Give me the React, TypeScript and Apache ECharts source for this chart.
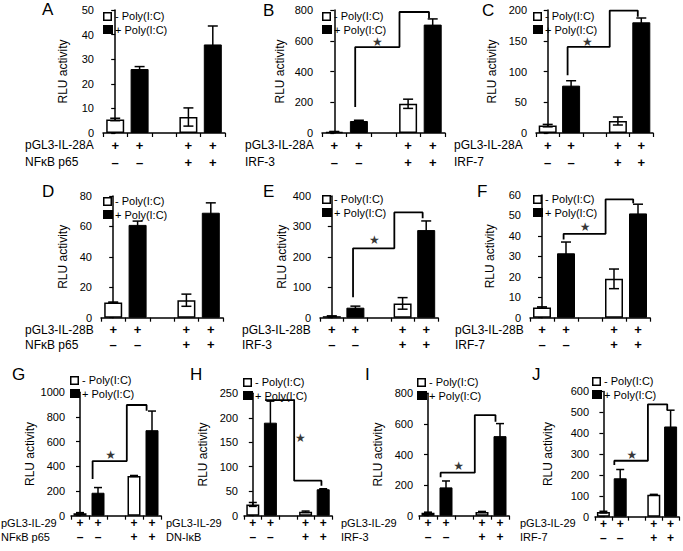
import React, { useEffect, useRef } from "react";
import * as echarts from "echarts";

// ---------- data ----------
const panelLetters = ["A", "B", "C", "D", "E", "F", "G", "H", "I", "J"];
const reporterLabels = ["pGL3-IL-28A", "pGL3-IL-28A", "pGL3-IL-28A", "pGL3-IL-28B", "pGL3-IL-28B", "pGL3-IL-28B", "pGL3-IL-29", "pGL3-IL-29", "pGL3-IL-29", "pGL3-IL-29"];
const factorLabels = ["NFκB p65", "IRF-3", "IRF-7", "NFκB p65", "IRF-3", "IRF-7", "NFκB p65", "DN-IκB", "IRF-3", "IRF-7"];
const categories = ["c1", "c2", "gap", "c3", "c4"];
const reporterSigns = ["+", "+", "", "+", "+"];
const factorSigns = ["–", "–", "", "+", "+"];
const seriesNames = ["- Poly(I:C)", "+ Poly(I:C)"];
const yAxisName = "RLU activity";

const yMax = [50, 800, 200, 80, 400, 60, 1000, 250, 800, 600];
const yStep = [10, 200, 50, 20, 100, 10, 200, 50, 200, 100];

// values of the "- Poly(I:C)" bars (without / with co-transfected factor)
const minusValues = [[5.5, 6.5], [8, 190], [12, 19.5], [10, 11.5], [5, 47], [5, 19], [20, 322], [23, 8], [20, 25], [22, 105]];
const minusErrors = [[0.5, 3.7], [2, 30], [2, 6.5], [0.3, 4], [1, 19], [0.3, 4.8], [5, 4], [4, 1.5], [3, 3], [4, 2]];
// values of the "+ Poly(I:C)" bars
const plusValues = [[26, 36], [78, 705], [77, 180], [61, 69], [33, 288], [31.5, 51], [186, 693], [190, 54], [185, 520], [184, 432]];
const plusErrors = [[1, 7.5], [5, 37], [8, 7], [2.5, 6.5], [5, 30], [5.5, 4.5], [42, 155], [44, 1], [42, 82], [42, 78]];

// significance brackets: [category position, value]
const brackets: number[][][] = [
  [],
  [[0.85, 169], [0.85, 559], [2.65, 559], [2.65, 787], [3.85, 787], [3.85, 748]],
  [[0.85, 94], [0.85, 140], [2.65, 140], [2.65, 199], [3.85, 199], [3.85, 189]],
  [],
  [[0.9, 67], [0.9, 228], [2.65, 228], [2.65, 346], [3.85, 346], [3.85, 327]],
  [[0.9, 38.3], [0.9, 41], [2.65, 41], [2.65, 57.9], [3.8, 57.9], [3.8, 56]],
  [[0.7, 297], [0.7, 443], [2.6, 443], [2.6, 897], [3.7, 897], [3.7, 851]],
  [[0.7, 236], [2.35, 236], [2.35, 71.5], [3.9, 71.5], [3.9, 61]],
  [[0.7, 251], [0.7, 281], [2.6, 281], [2.6, 658], [3.75, 658], [3.75, 614]],
  [[0.65, 248], [0.65, 268], [2.65, 268], [2.65, 538], [3.8, 538], [3.8, 511]],
];
const stars: (number[] | null)[] = [null, [1.75, 590], [1.7, 148], null, [1.8, 254], [1.8, 44.5], [1.7, 495], [2.7, 158], [1.7, 322], [1.7, 295]];

// ---------- layout ----------
const gridLeft = [103, 322, 536, 101, 320, 530, 71, 244, 419, 595];
const gridTop = [10, 10, 10, 196, 196, 195, 392.3, 393.3, 393.3, 391.4];
const gridWidth = [122, 123, 117, 122, 118, 120, 90, 88, 90, 84];
const gridHeight = [123, 123, 123, 121.7, 121.7, 122.7, 123.4, 122.4, 122.4, 125.3];
const nameGap = [34, 36, 38, 32, 32, 34, 35, 35, 35, 41];
const legendLeft = [103, 322, 533, 103, 322, 533, 70, 243, 417, 592];
const legendTop = [12, 12, 12, 197, 195, 195, 376, 378, 378, 377];
const letterX = [42, 263, 482, 42, 263, 477, 12, 190, 365, 532];
const letterY = [9, 10, 10, 191, 191, 191, 374, 374, 374, 374];
const rowTitleX = [25, 245, 454, 25, 242, 455, 1, 166, 341, 520];
const rowY1 = [145, 330, 523];
const rowY2 = [162, 345, 537];
const rowTitleFont = [12, 12, 11];
const labelLineHeight = [17, 14.5, 14];
const labelFont = [13, 13, 12];
const labelMargin = [3.5, 5, 0.3];
const yLabelMargin = [9, 9, 6];

const FONT = "Liberation Sans, Arial, Helvetica, sans-serif";

function buildOption() {
  const grid: any[] = [];
  const xAxis: any[] = [];
  const yAxis: any[] = [];
  const series: any[] = [];
  const graphic: any[] = [];

  for (let p = 0; p < 10; p++) {
    const row = p < 3 ? 0 : p < 6 ? 1 : 2;
    const barW = row === 2 ? 13 : 18;
    const capW = row === 2 ? 8 : 10;
    grid.push({ left: gridLeft[p], top: gridTop[p], width: gridWidth[p], height: gridHeight[p] });
    xAxis.push({
      type: "category",
      gridIndex: p,
      data: categories,
      axisLine: { lineStyle: { color: "#000", width: 1.5 } },
      axisTick: { show: true, length: 4, lineStyle: { color: "#000", width: 1.2 } },
      axisLabel: {
        interval: 0,
        color: "#000",
        fontFamily: FONT,
        fontSize: labelFont[row],
        fontWeight: "bold",
        lineHeight: labelLineHeight[row],
        margin: labelMargin[row],
        formatter: (_v: string, i: number) => reporterSigns[i] + "\n" + factorSigns[i],
      },
    });
    xAxis.push({ type: "value", gridIndex: p, min: -0.5, max: 4.5, show: false });
    yAxis.push({
      type: "value",
      gridIndex: p,
      min: 0,
      max: yMax[p],
      interval: yStep[p],
      splitLine: { show: false },
      axisLine: { show: true, lineStyle: { color: "#000", width: 1.5 } },
      axisTick: { show: true, length: 4, lineStyle: { color: "#000", width: 1.2 } },
      axisLabel: {
        color: "#000",
        fontFamily: FONT,
        fontSize: 11,
        margin: yLabelMargin[row],
        formatter: (v: number) => String(v),
      },
      name: yAxisName,
      nameLocation: "middle",
      nameGap: nameGap[p],
      nameTextStyle: { color: "#000", fontFamily: FONT, fontSize: 12 },
    });
    const xc = 2 * p;
    const xv = 2 * p + 1;
    series.push({
      type: "bar",
      name: seriesNames[0],
      xAxisIndex: xc,
      yAxisIndex: p,
      barWidth: barW,
      barGap: "-100%",
      itemStyle: { color: "#fff", borderColor: "#000", borderWidth: 1.5 },
      data: [minusValues[p][0], "-", "-", minusValues[p][1], "-"],
    });
    series.push({
      type: "bar",
      name: seriesNames[1],
      xAxisIndex: xc,
      yAxisIndex: p,
      barWidth: barW,
      barGap: "-100%",
      itemStyle: { color: "#000", borderColor: "#000", borderWidth: 1 },
      data: ["-", plusValues[p][0], "-", "-", plusValues[p][1]],
    });
    series.push({
      type: "custom",
      name: "error",
      xAxisIndex: xc,
      yAxisIndex: p,
      z: 5,
      encode: { x: 0, y: 1 },
      data: [
        [0, minusValues[p][0], minusErrors[p][0]],
        [1, plusValues[p][0], plusErrors[p][0]],
        [3, minusValues[p][1], minusErrors[p][1]],
        [4, plusValues[p][1], plusErrors[p][1]],
      ],
      renderItem: (_params: any, api: any) => {
        const x = api.value(0);
        const v = api.value(1);
        const e = api.value(2);
        const top = api.coord([x, v + e]);
        const bot = api.coord([x, Math.max(0, v - e)]);
        const st = { stroke: "#000", lineWidth: 1.5 };
        return {
          type: "group",
          children: [
            { type: "line", shape: { x1: top[0], y1: top[1], x2: bot[0], y2: bot[1] }, style: st },
            { type: "line", shape: { x1: top[0] - capW / 2, y1: top[1], x2: top[0] + capW / 2, y2: top[1] }, style: st },
            { type: "line", shape: { x1: bot[0] - capW / 2, y1: bot[1], x2: bot[0] + capW / 2, y2: bot[1] }, style: st },
          ],
        };
      },
    });
    if (brackets[p].length) {
      series.push({
        type: "line",
        name: "bracket",
        xAxisIndex: xv,
        yAxisIndex: p,
        clip: false,
        symbol: "none",
        z: 6,
        lineStyle: { color: "#000", width: 1.8 },
        data: brackets[p],
      });
    }
    const s = stars[p];
    if (s) {
      series.push({
        type: "scatter",
        name: "star",
        xAxisIndex: xv,
        yAxisIndex: p,
        clip: false,
        symbolSize: 1,
        z: 6,
        itemStyle: { color: "rgba(0,0,0,0)" },
        label: { show: true, position: "inside", formatter: "★", color: "#000", fontSize: 12, fontFamily: "DejaVu Sans" },
        data: [s],
      });
    }
    // legend (drawn as graphics)
    const L = legendLeft[p];
    const T = legendTop[p];
    graphic.push({
      type: "rect",
      shape: { x: L + 0.75, y: T + 0.75, width: 7.5, height: 7.5 },
      style: { fill: "#fff", stroke: "#000", lineWidth: 1.5 },
      z: 20,
    });
    graphic.push({
      type: "text",
      x: L + 12,
      y: T + 4,
      z: 20,
      style: { text: seriesNames[0], font: `11px ${FONT}`, fill: "#000", textVerticalAlign: "middle" },
    });
    graphic.push({
      type: "rect",
      shape: { x: L, y: T + 13, width: 10, height: 9 },
      style: { fill: "#000" },
      z: 20,
    });
    graphic.push({
      type: "text",
      x: L + 12,
      y: T + 17.5,
      z: 20,
      style: { text: seriesNames[1], font: `11px ${FONT}`, fill: "#000", textVerticalAlign: "middle" },
    });
    graphic.push({
      type: "text",
      x: letterX[p],
      y: letterY[p],
      style: { text: panelLetters[p], font: `17px ${FONT}`, fill: "#000", textVerticalAlign: "middle" },
    });
    graphic.push({
      type: "text",
      x: rowTitleX[p],
      y: rowY1[row],
      style: { text: reporterLabels[p], font: `${rowTitleFont[row]}px ${FONT}`, fill: "#000", textVerticalAlign: "middle" },
    });
    graphic.push({
      type: "text",
      x: rowTitleX[p],
      y: rowY2[row],
      style: { text: factorLabels[p], font: `${rowTitleFont[row]}px ${FONT}`, fill: "#000", textVerticalAlign: "middle" },
    });
  }

  return {
    animation: false,
    backgroundColor: "#fff",
    color: ["#000"],
    textStyle: { fontFamily: FONT },
    grid,
    xAxis,
    yAxis,
    series,
    graphic,
  };
}

export default function App() {
  const ref = useRef<HTMLDivElement>(null);
  useEffect(() => {
    if (!ref.current) return;
    const chart = echarts.init(ref.current, null, { renderer: "svg" });
    chart.setOption(buildOption() as any);
    return () => chart.dispose();
  }, []);
  return (
    <div
      ref={ref}
      style={{ position: "fixed", left: 0, top: 0, width: 683, height: 551, background: "#fff" }}
    />
  );
}
